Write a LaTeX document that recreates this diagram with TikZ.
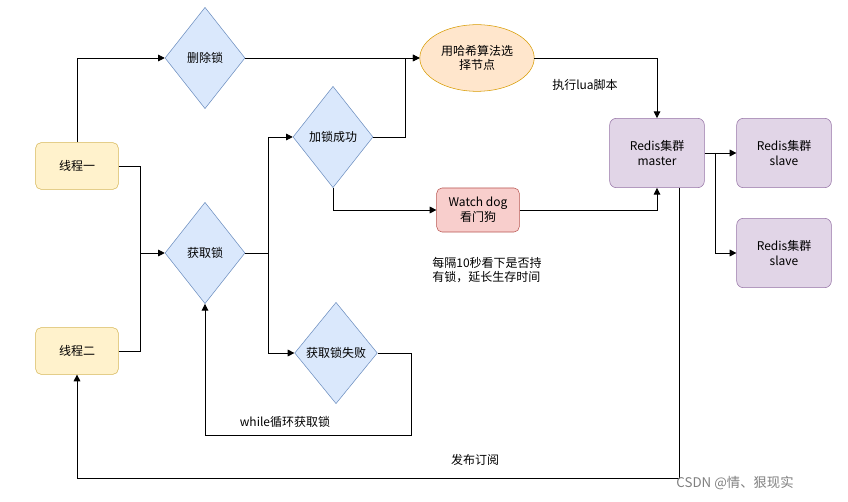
\documentclass[tikz,border=0pt]{standalone}
\usepackage{fontspec}
\setmainfont{Noto Sans CJK SC}
\usetikzlibrary{shapes.geometric,arrows.meta}
\definecolor{ylwF}{HTML}{FFF2CC}\definecolor{ylwD}{HTML}{D6B656}
\definecolor{bluF}{HTML}{DAE8FC}\definecolor{bluD}{HTML}{6C8EBF}
\definecolor{orgF}{HTML}{FFE6CC}\definecolor{orgD}{HTML}{D79B00}
\definecolor{redF}{HTML}{F8CECC}\definecolor{redD}{HTML}{B85450}
\definecolor{purF}{HTML}{E1D5E7}\definecolor{purD}{HTML}{9673A6}
\tikzset{
  thread/.style={draw=ylwD, fill=ylwF, rounded corners=4pt, minimum width=62pt, minimum height=35pt},
  decide/.style={diamond, draw=bluD, fill=bluF, inner sep=0pt, minimum width=60pt, minimum height=76pt},
  cluster/.style={draw=purD, fill=purF, rounded corners=5pt, minimum width=71pt, minimum height=52pt, align=center},
  link/.style={-{Triangle[length=5pt,width=5pt]}, line width=0.6pt},
}
\begin{document}
\begin{tikzpicture}[x=0.75pt, y=-0.75pt, font=\fontsize{9pt}{11pt}\selectfont]
\useasboundingbox (0,0) rectangle (848,502);
\node[thread] (t1) at (77,166) {线程一};
\node[thread] (t2) at (77,351) {线程二};
\node[decide] (del) at (205,58) {删除锁};
\node[decide] (get) at (205,253) {获取锁};
\node[decide] (ok) at (333,137) {加锁成功};
\node[decide, minimum width=62pt] (fail) at (336,353) {获取锁失败};
\node[ellipse, draw=orgD, fill=orgF, minimum width=68pt, minimum height=50pt, align=center] (hash) at (477,58) {用哈希算法选\\择节点};
\node[draw=redD, fill=redF, rounded corners=4pt, minimum width=62pt, minimum height=33pt, align=center] (dog) at (478,210) {Watch dog\\看门狗};
\node[cluster] (master) at (657,153) {Redis集群\\master};
\node[cluster] (s1) at (784,153) {Redis集群\\slave};
\node[cluster] (s2) at (784,253) {Redis集群\\slave};
% coordinates for bends
\coordinate (jt) at (140,253);
\coordinate (jg) at (268,253);
\coordinate (jm) at (715,153);
\draw[link] (t1.east) -| (jt) -- (get.west);
\draw[line width=0.6pt] (t2.east) -| (jt);
\draw[link] (t1.north) |- (del.west);
\draw[link] (del.east) -- (hash.west);
\draw[link] (get.east) -- (jg) |- (ok.west);
\draw[link] (jg) |- (fail.west);
\draw[link] (ok.east) -- ++(32,0) |- (hash.west);
\draw[link] (ok.south) |- (dog.west);
\draw[link] (dog.east) -| (master.south);
\draw[link] (hash.east) -| (master.north);
\draw[link] (master.east) -- (s1.west);
\draw[link] (jm) |- (s2.west);
\draw[link] (master.south east) ++(-25,0) |- (77,478) -- (t2.south);
\draw[link] (fail.east) -- ++(34,0) |- (205,435) -- (get.south);
\node at (585,85) {执行lua脚本};
\node[align=left] at (487,270) {每隔10秒看下是否持\\有锁，延长生存时间};
\node at (285,422) {while循环获取锁};
\node at (475,460) {发布订阅};
\node[gray, font=\fontsize{10pt}{12pt}\selectfont] at (735,483) {CSDN @情、狠现实};
\end{tikzpicture}
\end{document}
